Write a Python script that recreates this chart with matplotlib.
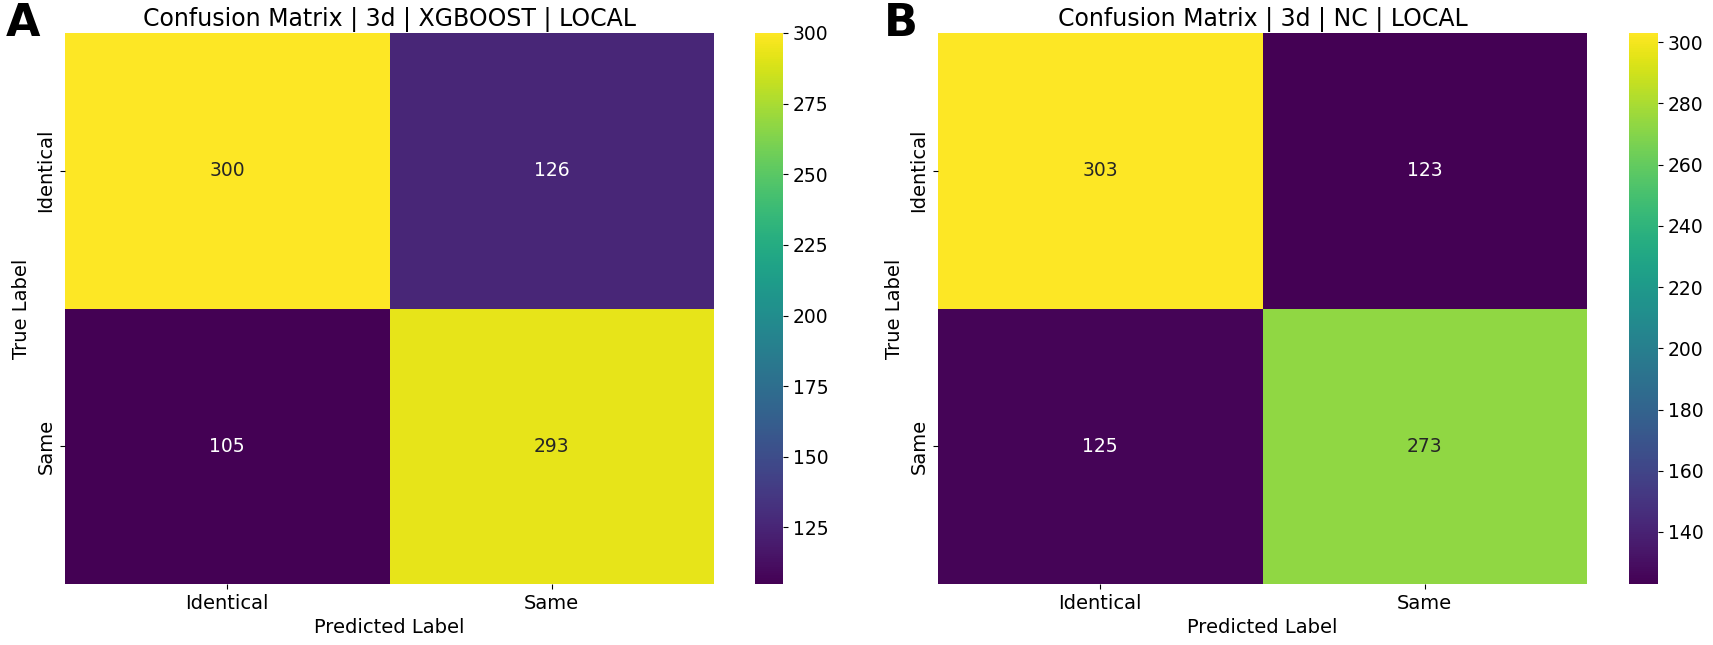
import numpy as np
import matplotlib
matplotlib.use('Agg')
import matplotlib.pyplot as plt
import seaborn as sns

labels = ['Identical', 'Same']
cm_xgb = np.array([[300, 126],
                   [105, 293]])
cm_nc = np.array([[303, 123],
                  [125, 273]])
titles = ['Confusion Matrix | 3d | XGBOOST | LOCAL',
          'Confusion Matrix | 3d | NC | LOCAL']
panels = ['A', 'B']

W, H = 1713, 645
fig = plt.figure(figsize=(W/100, H/100), dpi=100)

def box(x0, y0, x1, y1):
    # pixel coords (top-left origin) -> figure fraction
    return [x0/W, 1 - y1/H, (x1-x0)/W, (y1-y0)/H]

layout = [
    (box(65, 33, 714, 584), box(755, 33, 783, 584), 6),
    (box(938, 33, 1587, 584), box(1629, 33, 1658, 584), 884),
]

for cm, title, pl, (axr, cbr, px) in zip([cm_xgb, cm_nc], titles, panels, layout):
    ax = fig.add_axes(axr)
    cax = fig.add_axes(cbr)
    sns.heatmap(cm, annot=True, fmt='d', cmap='viridis', ax=ax, cbar_ax=cax,
                xticklabels=labels, yticklabels=labels,
                annot_kws={'fontsize': 13.5})
    ax.set_title(title, fontsize=17, pad=5)
    ax.set_xlabel('Predicted Label', fontsize=14)
    ax.set_ylabel('True Label', fontsize=14)
    ax.tick_params(labelsize=14)
    plt.setp(ax.get_yticklabels(), rotation=90, va='center')
    cax.tick_params(labelsize=13.5)
    fig.text(px/W, 1 - 2/H, pl, fontsize=32, fontweight='bold', va='top', ha='left')

fig.savefig('out.png', dpi=100)
